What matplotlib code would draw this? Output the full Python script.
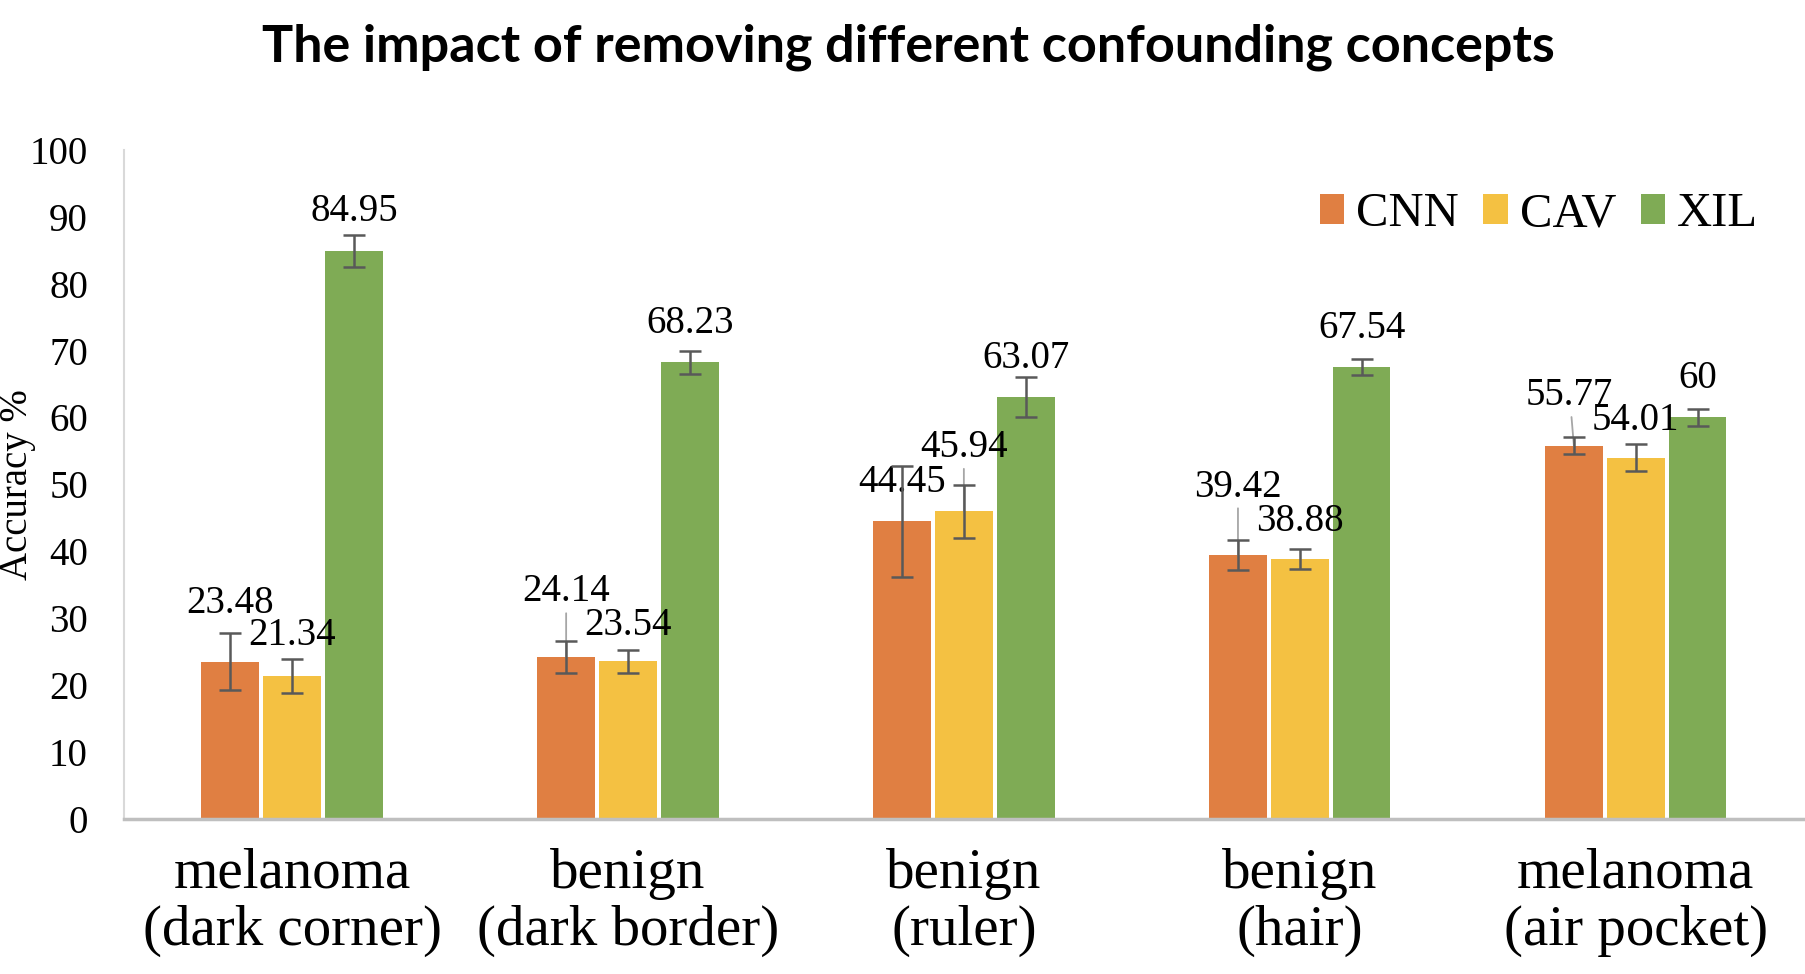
import numpy as np
import matplotlib.pyplot as plt

# chart data
categories = ['melanoma\n(dark corner)', 'benign\n(dark border)', 'benign\n(ruler)',
              'benign\n(hair)', 'melanoma\n(air pocket)']
series_names = ['CNN', 'CAV', 'XIL']
cnn_acc = [23.48, 24.14, 44.45, 39.42, 55.77]
cav_acc = [21.34, 23.54, 45.94, 38.88, 54.01]
xil_acc = [84.95, 68.23, 63.07, 67.54, 60]
cnn_err = [4.3, 2.4, 8.3, 2.2, 1.3]
cav_err = [2.5, 1.7, 4.0, 1.5, 2.0]
xil_err = [2.4, 1.7, 3.0, 1.2, 1.3]
y_ticks = [0, 10, 20, 30, 40, 50, 60, 70, 80, 90, 100]

# styling
colors = ['#E07F42', '#F4C142', '#7FAB55']
serif = 'Liberation Serif'
# label offsets in points (dx, dy) above the bar top, leader line yes/no
label_offsets = [
    [(0, 42), (0, 47), (0, 28), (0, 49), (-3, 36)],
    [(0, 29), (0, 26), (0, 46), (0, 27), (0, 27)],
    [(0, 28), (0, 28), (0, 28), (0, 28), (0, 28)],
]
leaders = [
    [False, True, False, True, True],
    [False, False, True, False, False],
    [False, False, False, False, False],
]

values = [cnn_acc, cav_acc, xil_acc]
errors = [cnn_err, cav_err, xil_err]

fig = plt.figure(figsize=(18.06, 9.74), dpi=100)
ax = fig.add_axes([0.0687, 0.1595, 0.93, 0.6865])

x = np.arange(len(categories))
width = 0.172
step = 0.184

for i, name in enumerate(series_names):
    xs = x + (i - 1) * step
    ax.bar(xs, values[i], width, color=colors[i], label=name, zorder=1)
    ax.errorbar(xs, values[i], yerr=errors[i], fmt='none', ecolor='#595959',
                elinewidth=1.8, capsize=8, capthick=1.8, zorder=4)
    for j, v in enumerate(values[i]):
        dx, dy = label_offsets[i][j]
        arrow = None
        if leaders[i][j]:
            arrow = dict(arrowstyle='-', color='#A6A6A6', lw=1.3, shrinkA=0, shrinkB=0)
        ax.annotate(f'{v:g}', xy=(xs[j], v), xytext=(dx, dy), textcoords='offset points',
                    ha='center', va='center', fontsize=28, family=serif,
                    arrowprops=arrow, zorder=3)

ax.set_xlim(-0.5, len(categories) - 0.5)
ax.set_ylim(0, 100)
ax.set_yticks(y_ticks)
ax.set_xticks(x)
ax.set_xticklabels(categories, fontsize=41, family=serif, linespacing=1.12)
for lab in ax.get_yticklabels():
    lab.set_family(serif)
    lab.set_fontsize(28)
ax.tick_params(axis='y', length=0, pad=26)
ax.tick_params(axis='x', length=0, pad=21)

ax.spines['top'].set_visible(False)
ax.spines['right'].set_visible(False)
ax.spines['left'].set_color('#D9D9D9')
ax.spines['left'].set_linewidth(1.5)
ax.spines['bottom'].set_color('#BFBFBF')
ax.spines['bottom'].set_linewidth(2.5)

fig.text(0.0095, 0.503, 'Accuracy %', rotation=90, ha='center', va='center',
         fontsize=28, family=serif)
fig.suptitle('The impact of removing different confounding concepts', x=0.503, y=0.951,
             ha='center', va='center', fontsize=37.5, fontweight='bold', family='Lato')

ax.legend(loc='center right', bbox_to_anchor=(0.9735, 0.780), bbox_transform=fig.transFigure,
          ncol=3, frameon=False, prop={'family': serif, 'size': 35},
          handlelength=0.5, handleheight=0.55, handletextpad=0.25, columnspacing=0.5,
          borderpad=0, borderaxespad=0)

fig.savefig('out.png', dpi=100)
